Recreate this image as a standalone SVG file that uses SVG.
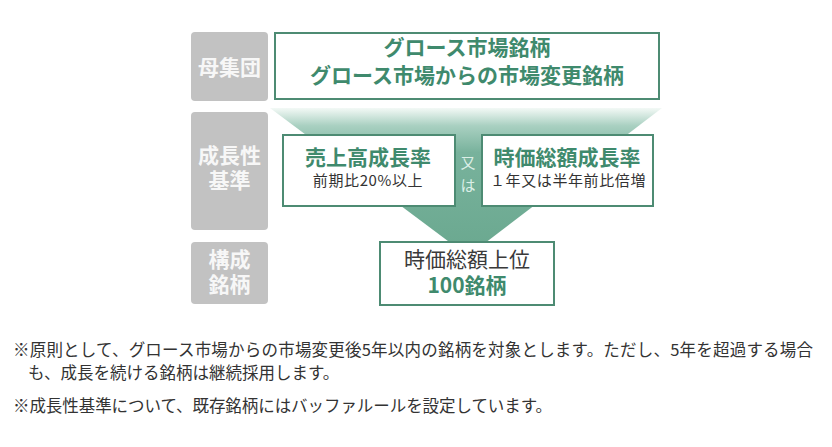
<svg xmlns="http://www.w3.org/2000/svg" width="832" height="447" viewBox="0 0 832 447">
<defs>
<linearGradient id="funnel" gradientUnits="userSpaceOnUse" x1="0" y1="108" x2="0" y2="256">
<stop offset="0" stop-color="#f3f9f6"/>
<stop offset="0.12" stop-color="#a9d0c1"/>
<stop offset="0.3" stop-color="#78b29c"/>
<stop offset="1" stop-color="#6aa88f"/>
</linearGradient>
</defs>
<style>
text{font-family:"Noto Sans CJK JP","Noto Sans",sans-serif;}
.lab{fill:#c2c2c2;}
.labt{fill:#f7f7f7;font-size:21px;font-weight:bold;text-anchor:middle;}
.box{fill:#ffffff;stroke:#4d8b73;stroke-width:2;}
.gt{fill:#3f8a6d;font-size:21px;font-weight:bold;text-anchor:middle;}
.st{fill:#333333;font-size:15px;text-anchor:middle;letter-spacing:0.6px;}
.dt{fill:#3a3a3a;font-size:21px;text-anchor:middle;}
.or{fill:#dcefe7;font-size:15px;text-anchor:middle;}
.note{fill:#333333;font-size:16.5px;}
</style>
<rect width="832" height="447" fill="#ffffff"/>
<g id="connectors">
<polygon points="270,108 662,108 468,256" fill="url(#funnel)"/>
</g>
<g id="label-population">
<rect class="lab" x="191" y="32" width="77" height="69" rx="4"/>
<text class="labt" x="229.5" y="74.5">母集団</text>
</g>
<g id="label-growth">
<rect class="lab" x="191" y="112" width="77" height="118" rx="4"/>
<text class="labt" x="229.5" y="163">成長性</text>
<text class="labt" x="229.5" y="188">基準</text>
</g>
<g id="label-constituents">
<rect class="lab" x="191" y="242" width="77" height="62" rx="4"/>
<text class="labt" x="229.5" y="267">構成</text>
<text class="labt" x="229.5" y="292">銘柄</text>
</g>
<g id="population">
<rect class="box" x="275" y="33" width="384" height="66"/>
<text class="gt" x="467" y="55">グロース市場銘柄</text>
<text class="gt" x="467" y="82.5">グロース市場からの市場変更銘柄</text>
</g>
<g id="sales-growth">
<rect class="box" x="283" y="135" width="172" height="71"/>
<text class="gt" x="368" y="165">売上高成長率</text>
<text class="st" x="368" y="186">前期比20%以上</text>
</g>
<g id="or">
<text class="or" x="468" y="168">又</text>
<text class="or" x="468" y="191">は</text>
</g>
<g id="mcap-growth">
<rect class="box" x="482" y="135" width="171" height="71"/>
<text class="gt" x="567" y="165">時価総額成長率</text>
<text class="st" x="568" y="186">１年又は半年前比倍増</text>
</g>
<g id="top100">
<rect class="box" x="380" y="242" width="174" height="63"/>
<text class="dt" x="467" y="267">時価総額上位</text>
<text class="gt" x="467" y="293">100銘柄</text>
</g>
<g id="notes">
<text class="note" x="13" y="356" textLength="800" lengthAdjust="spacing">※原則として、グロース市場からの市場変更後5年以内の銘柄を対象とします。ただし、5年を超過する場合</text>
<text class="note" x="28" y="379">も、成長を続ける銘柄は継続採用します。</text>
<text class="note" x="13" y="412" textLength="539" lengthAdjust="spacing">※成長性基準について、既存銘柄にはバッファルールを設定しています。</text>
</g>
</svg>
